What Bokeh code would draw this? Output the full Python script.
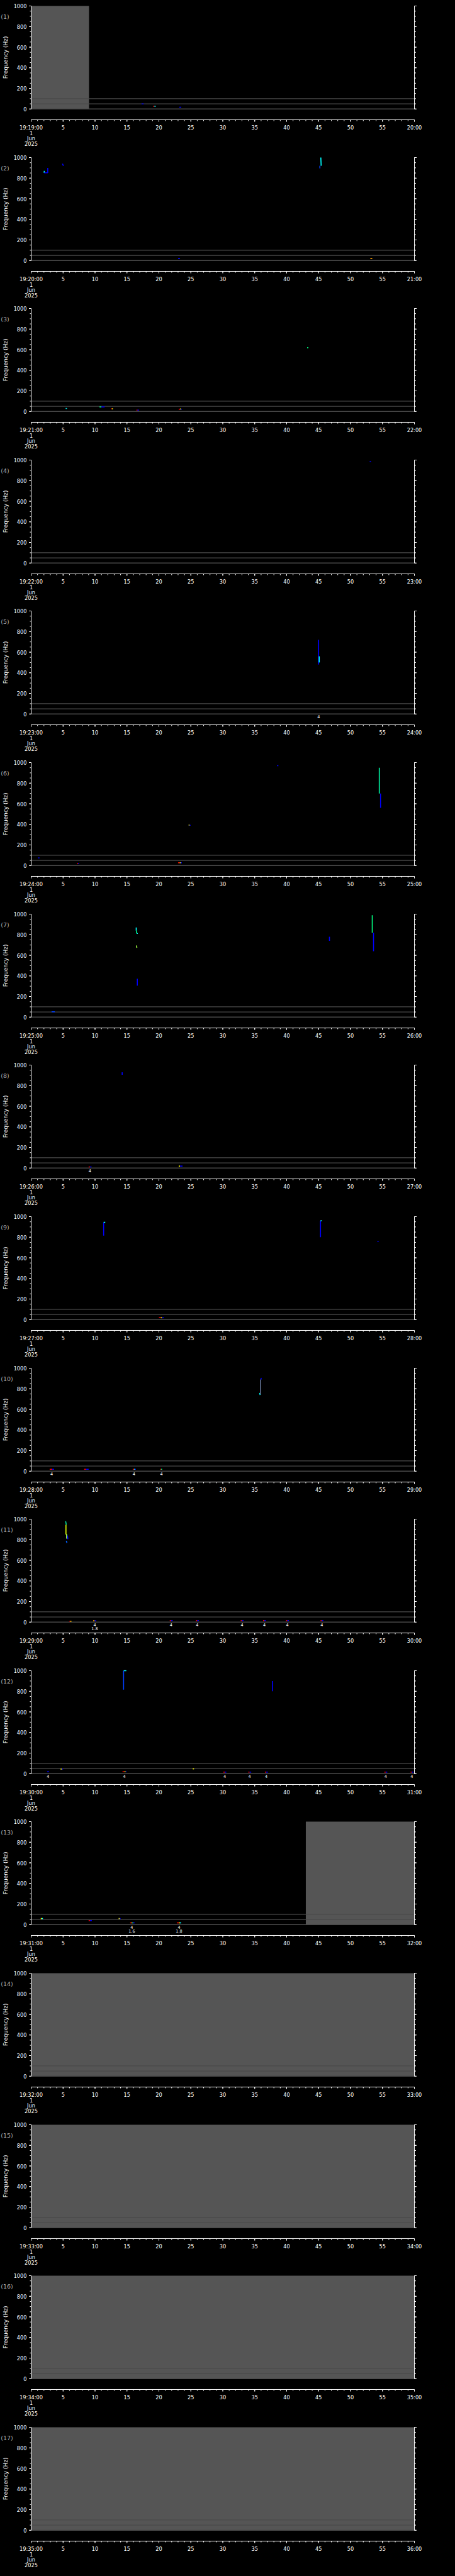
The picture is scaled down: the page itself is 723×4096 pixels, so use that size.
import math
from bokeh.plotting import figure
from bokeh.models import Range1d, ColumnDataSource
from bokeh.layouts import column
from bokeh.embed import file_html
from bokeh.resources import INLINE
from bokeh.core.properties import value

# ---------------- data ----------------
panel_start = ["19:%02d:00" % m for m in range(19, 36)]
panel_end = ["%02d:00" % (m + 1) for m in range(19, 36)]
x_ticks = [0, 5, 10, 15, 20, 25, 30, 35, 40, 45, 50, 55, 60]
x_mid_labels = ["5", "10", "15", "20", "25", "30", "35", "40", "45", "50", "55"]
x_minor = list(range(61))
date_lines = ["1", "Jun", "2025"]
y_ticks = [0, 200, 400, 600, 800, 1000]
y_tick_labels = ["0", "200", "400", "600", "800", "1000"]
y_minor = list(range(0, 1001, 50))
guide_freqs = [0, 50, 100]

# no-data (gray) spans: panel, start s, end s
gap_panel = [1, 13, 14, 15, 16, 17]
gap_t0 = [0, 43.0, 0, 0, 0, 0]
gap_t1 = [9.06, 60, 60, 60, 60, 60]

B, C, R, Y, G = "#0000ff", "#00ffff", "#ff0000", "#ffff00", "#00ff80"

# spectrogram traces (one line per panel): panel, t0, t1, f0, f1, colour
spot_panel = ([1] * 4 + [2] * 8 + [3] * 11 + [4] * 1 + [5] * 2 + [6] * 11 + [7] * 9 + [8] * 5
              + [9] * 8 + [10] * 12 + [11] * 21 + [12] * 20 + [13] * 13)
spot_t0 = [17.3, 19.1, 19.3, 23.2,
           2.05, 2.6, 2.05, 4.9, 45.2, 45.35, 23.0, 53.1,
           5.4, 10.7, 11.0, 12.5, 12.65, 16.5, 16.65, 23.1, 23.3, 23.45, 43.2,
           53.0,
           45.0, 45.1,
           1.1, 7.2, 7.35, 23.0, 23.25, 23.4, 24.65, 24.8, 54.5, 54.7, 38.5,
           3.2, 16.45, 16.5, 16.55, 16.5, 16.62, 53.4, 53.6, 46.7,
           14.25, 9.0, 9.2, 23.1, 23.3,
           11.35, 11.35, 20.0, 20.3, 20.5, 45.3, 45.3, 54.2,
           35.97, 35.78, 35.9, 2.9, 3.3, 8.3, 8.6, 15.9, 16.1, 16.25, 20.2, 20.35,
           5.4, 5.45, 5.55, 5.68, 5.5, 6.0, 6.15, 9.7, 9.95,
           21.7, 21.9, 25.8, 26.0, 32.8, 33.0, 36.3, 36.5, 39.9, 40.1, 45.3, 45.5,
           14.47, 14.5, 2.5, 4.6, 4.8, 14.3, 14.6, 14.8, 25.3, 37.8,
           30.1, 30.3, 34.0, 34.2, 36.6, 36.8, 55.3, 55.5, 59.4, 59.6,
           1.5, 1.7, 9.0, 9.2, 13.7, 13.85, 15.5, 15.7, 15.85, 16.0, 22.8, 23.1, 23.3]
spot_t1 = [17.6, 19.3, 19.5, 23.5,
           2.05, 2.6, 2.6, 5.05, 45.2, 45.4, 23.3, 53.4,
           5.6, 11.0, 11.5, 12.65, 12.8, 16.65, 16.85, 23.3, 23.45, 23.6, 43.4,
           53.2,
           45.0, 45.1,
           1.3, 7.35, 7.5, 23.25, 23.4, 23.6, 24.8, 24.95, 54.5, 54.7, 38.7,
           3.7, 16.45, 16.5, 16.7, 16.55, 16.62, 53.4, 53.6, 46.7,
           14.25, 9.2, 9.45, 23.3, 23.7,
           11.35, 11.6, 20.3, 20.5, 20.8, 45.3, 45.5, 54.4,
           36.05, 35.85, 35.9, 3.3, 3.6, 8.6, 9.0, 16.1, 16.25, 16.4, 20.35, 20.5,
           5.5, 5.45, 5.55, 5.75, 5.6, 6.15, 6.3, 9.95, 10.2,
           21.9, 22.15, 26.0, 26.25, 33.0, 33.25, 36.5, 36.75, 40.1, 40.35, 45.5, 45.75,
           14.47, 14.9, 2.8, 4.8, 5.0, 14.6, 14.8, 14.95, 25.5, 37.8,
           30.3, 30.55, 34.2, 34.45, 36.8, 37.05, 55.5, 55.75, 59.6, 59.85,
           1.7, 1.85, 9.2, 9.5, 13.85, 14.0, 15.7, 15.85, 16.0, 16.2, 23.1, 23.3, 23.5]
spot_f0 = [49, 26, 26, 17,
           870, 900, 852, 940, 920, 1000, 21, 21,
           29, 44, 44, 26, 26, 13, 13, 22, 24, 22, 619,
           985,
           720, 560,
           74, 21, 21, 27, 27, 27, 393, 391, 950, 700, 970,
           52, 870, 840, 812, 695, 372, 990, 820, 780,
           930, 11, 11, 19, 19,
           944, 944, 18, 18, 18, 960, 960, 760,
           905, 760, 890, 18, 18, 18, 18, 18, 18, 18, 18, 18,
           980, 945, 855, 840, 790, 8, 8, 13, 13,
           15, 15, 15, 15, 15, 15, 15, 15, 15, 15, 15, 15,
           1000, 1000, 18, 44, 44, 18, 18, 18, 47, 900,
           15, 15, 15, 15, 15, 15, 15, 15, 15, 15,
           59, 59, 39, 39, 59, 59, 17, 17, 17, 17, 17, 17, 17]
spot_f1 = [49, 26, 26, 17,
           850, 850, 852, 920, 895, 920, 21, 21,
           29, 44, 44, 26, 26, 13, 13, 22, 24, 22, 619,
           985,
           480, 500,
           74, 21, 21, 27, 27, 27, 393, 391, 700, 560, 970,
           52, 840, 812, 812, 672, 306, 820, 640, 740,
           905, 11, 11, 19, 19,
           815, 944, 18, 18, 18, 800, 960, 760,
           890, 740, 745, 18, 18, 18, 18, 18, 18, 18, 18, 18,
           945, 850, 810, 805, 770, 8, 8, 13, 13,
           15, 15, 15, 15, 15, 15, 15, 15, 15, 15, 15, 15,
           816, 1000, 18, 44, 44, 18, 18, 18, 47, 800,
           15, 15, 15, 15, 15, 15, 15, 15, 15, 15,
           59, 59, 39, 39, 59, 59, 17, 17, 17, 17, 17, 17, 17]
spot_color = [B, R, C, B,
              C, B, B, B, "#0040ff", C, B, "#ffa000",
              "#00e0e0", G, B, R, Y, R, B, R, Y, B, G,
              B,
              B, C,
              B, R, B, R, Y, B, Y, B, "#00ffaa", B, B,
              "#0040ff", C, G, C, "#a0ff40", B, G, B, B,
              B, R, B, Y, B,
              B, C, R, Y, B, B, C, B,
              B, C, "#607090", R, B, R, B, R, C, B, R, G,
              "#00e0a0", "#e0ff00", "#a0ff40", B, "#0060ff", R, Y, "#ffa000", B,
              R, B, R, B, R, B, R, B, R, B, R, B,
              "#0040ff", C, B, Y, B, R, Y, B, Y, B,
              R, B, R, B, R, B, R, B, R, B,
              Y, C, R, B, Y, B, R, Y, C, B, R, Y, C]

# event flags under the traces
flag_panel = [5, 8, 10, 10, 10, 11, 11, 11, 11, 11, 11, 11, 12, 12, 12, 12, 12, 12, 12, 13, 13]
flag_t = [45.0, 9.2, 3.2, 16.1, 20.4, 9.95, 21.9, 26.0, 33.0, 36.5, 40.1, 45.5,
          2.65, 14.6, 30.3, 34.2, 36.8, 55.5, 59.6, 15.75, 23.15]
flag_top = ["4"] * 21
flag_sub = ["", "", "", "", "", "1.8", "", "", "", "", "", "",
            "", "", "", "", "", "", "", "1.6", "1.8"]

# ---------------- layout (reference px * S) ----------------
S = 0.705
N = 17
PERIOD = 341.3 * S
FIG_W = 700
AXIS_X = 49            # px from figure left to the 0 s edge
DATA_W = 609           # px for 60 s
TOP = 9                # px from figure top to the 1000 Hz line
ZERO_PX = 232.3 * S    # px from 1000 Hz to 0 Hz
AXIS_DROP = 24.4 * S   # px from 0 Hz down to the time axis
PX_PER_HZ = ZERO_PX / 1000.0
PX_PER_S = DATA_W / 60.0
X_START = -AXIS_X / PX_PER_S
X_END = (FIG_W - AXIS_X) / PX_PER_S
Y_TOP = 1000 + TOP / PX_PER_HZ
FONT = "DejaVu Sans"
TICK_FS = "8.2px"


def sx(px):
    return px / PX_PER_S


def sy(px):
    return px / PX_PER_HZ


tops = [round(k * PERIOD) for k in range(N)]
heights = [tops[k + 1] - tops[k] for k in range(N - 1)] + [4088 - tops[N - 1]]

Y_AXIS = -sy(AXIS_DROP)
WHITE = "white"

figs = []
for k in range(N):
    h = heights[k]
    p = figure(width=FIG_W, height=h,
               x_range=Range1d(X_START, X_END), y_range=Range1d(Y_TOP - sy(h), Y_TOP),
               output_backend="svg", toolbar_location=None,
               x_axis_location=None, y_axis_location=None,
               min_border=0, min_border_left=0, min_border_right=0,
               min_border_top=0, min_border_bottom=0,
               background_fill_color="black", border_fill_color="black")
    p.outline_line_color = None
    p.grid.visible = False

    # gray no-data regions
    g = [i for i, pp in enumerate(gap_panel) if pp == k + 1]
    if g:
        p.quad(left=[gap_t0[i] for i in g], right=[gap_t1[i] for i in g],
               bottom=0, top=1000, fill_color="#555555", line_color=None)

    # guide lines
    p.segment(x0=[0] * len(guide_freqs), x1=[60] * len(guide_freqs), y0=guide_freqs, y1=guide_freqs,
              line_color="#4a4a4a", line_width=1.3)

    # frequency axes (left with labels, right ticks only)
    p.segment(x0=[0, 60], x1=[0, 60], y0=[0, 0], y1=[1000, 1000], line_color=WHITE, line_width=1)
    p.segment(x0=[0] * len(y_minor), x1=[-sx(2)] * len(y_minor), y0=y_minor, y1=y_minor,
              line_color=WHITE, line_width=1)
    p.segment(x0=[0] * len(y_ticks), x1=[-sx(3.5)] * len(y_ticks), y0=y_ticks, y1=y_ticks,
              line_color=WHITE, line_width=1)
    p.segment(x0=[60] * len(y_minor), x1=[60 + sx(2.5)] * len(y_minor), y0=y_minor, y1=y_minor,
              line_color=WHITE, line_width=1)
    p.segment(x0=[60] * len(y_ticks), x1=[60 + sx(3.5)] * len(y_ticks), y0=y_ticks, y1=y_ticks,
              line_color=WHITE, line_width=1)
    p.text(x=[-sx(7)] * len(y_ticks), y=y_ticks, text=y_tick_labels, text_color=WHITE,
           text_font=value(FONT), text_font_size=TICK_FS, text_align="right", text_baseline="middle")

    # time axis, detached below the panel
    p.segment(x0=[0], x1=[60], y0=[Y_AXIS], y1=[Y_AXIS], line_color=WHITE, line_width=1)
    p.segment(x0=x_minor, x1=x_minor, y0=[Y_AXIS] * len(x_minor), y1=[Y_AXIS - sy(2)] * len(x_minor),
              line_color=WHITE, line_width=1)
    p.segment(x0=x_ticks, x1=x_ticks, y0=[Y_AXIS] * len(x_ticks), y1=[Y_AXIS - sy(3.2)] * len(x_ticks),
              line_color=WHITE, line_width=1)
    xlabels = [panel_start[k]] + x_mid_labels + [panel_end[k]]
    p.text(x=x_ticks, y=[Y_AXIS - sy(12.2)] * len(x_ticks), text=xlabels, text_color=WHITE,
           text_font=value(FONT), text_font_size=TICK_FS, text_align="center", text_baseline="middle")
    p.text(x=[0] * len(date_lines), y=[Y_AXIS - sy(d) for d in (20.7, 29.6, 38.3)], text=date_lines,
           text_color=WHITE, text_font=value(FONT), text_font_size=TICK_FS,
           text_align="center", text_baseline="middle")

    # traces
    idx = [i for i, pp in enumerate(spot_panel) if pp == k + 1]
    if idx:
        src = ColumnDataSource(dict(x0=[spot_t0[i] for i in idx], x1=[spot_t1[i] for i in idx],
                                    y0=[spot_f0[i] for i in idx], y1=[spot_f1[i] for i in idx],
                                    c=[spot_color[i] for i in idx]))
        p.segment(x0="x0", x1="x1", y0="y0", y1="y1", line_color="c", line_width=1.6, source=src)

    # flags
    fi = [i for i, pp in enumerate(flag_panel) if pp == k + 1]
    if fi:
        p.text(x=[flag_t[i] for i in fi], y=[-sy(6 * S)] * len(fi), text=[flag_top[i] for i in fi],
               text_color=WHITE, text_font=value(FONT), text_font_size="6.5px",
               text_align="center", text_baseline="middle")
    fs = [i for i in fi if flag_sub[i]]
    if fs:
        p.text(x=[flag_t[i] for i in fs], y=[-sy(15 * S)] * len(fs), text=[flag_sub[i] for i in fs],
               text_color=WHITE, text_font=value(FONT), text_font_size="6.5px",
               text_align="center", text_baseline="middle")

    # y-axis title and panel number
    p.text(x=[-sx(41)], y=[500], text=["Frequency (Hz)"], angle=math.pi / 2,
           text_align="center", text_baseline="middle", text_color=WHITE,
           text_font=value(FONT), text_font_size="9px")
    p.text(x=[-sx(48.3)], y=[899], text=["(%d)" % (k + 1)],
           text_align="left", text_baseline="middle", text_color="#aaaaaa",
           text_font=value(FONT), text_font_size="9.5px")
    figs.append(p)

layout = column(*figs, spacing=0)
html = file_html(layout, INLINE, title="Spectrogram")
html = html.replace("<head>", "<head><style>html,body{background:#000;}</style>", 1)
open("out.html", "w").write(html)
